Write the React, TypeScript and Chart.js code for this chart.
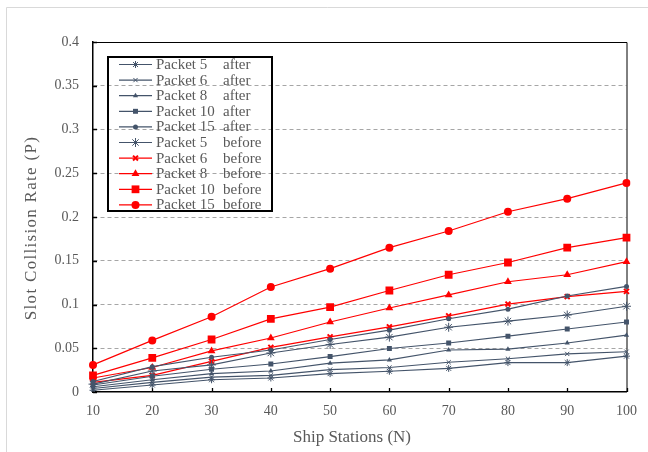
import React, { useEffect, useRef } from 'react';
import { Chart, registerables } from 'chart.js';
import { drawPoint } from 'chart.js/helpers';

Chart.register(...registerables);

// ---- data ----
const stations = ['10', '20', '30', '40', '50', '60', '70', '80', '90', '100'];
const yTickLabels = ['0', '0.05', '0.1', '0.15', '0.2', '0.25', '0.3', '0.35', '0.4'];

const packet5After = [0.002, 0.008, 0.014, 0.016, 0.021, 0.0237, 0.027, 0.0336, 0.0336, 0.041];
const packet6After = [0.004, 0.011, 0.017, 0.019, 0.0256, 0.028, 0.034, 0.038, 0.0435, 0.046];
const packet8After = [0.006, 0.014, 0.021, 0.024, 0.033, 0.0367, 0.048, 0.049, 0.056, 0.065];
const packet10After = [0.008, 0.018, 0.026, 0.032, 0.0405, 0.0497, 0.056, 0.0638, 0.072, 0.08];
const packet15After = [0.012, 0.029, 0.0397, 0.048, 0.06, 0.0707, 0.0837, 0.0947, 0.1097, 0.1207];
const packet5Before = [0.009, 0.024, 0.031, 0.0446, 0.0543, 0.0627, 0.074, 0.081, 0.088, 0.098];
const packet6Before = [0.011, 0.019, 0.035, 0.051, 0.063, 0.0745, 0.087, 0.1005, 0.109, 0.115];
const packet8Before = [0.016, 0.028, 0.047, 0.0617, 0.08, 0.096, 0.111, 0.126, 0.134, 0.149];
const packet10Before = [0.019, 0.039, 0.06, 0.0835, 0.097, 0.116, 0.134, 0.148, 0.165, 0.1765];
const packet15Before = [0.031, 0.059, 0.086, 0.12, 0.141, 0.165, 0.184, 0.206, 0.221, 0.239];

const seriesNames = ['Packet 5', 'Packet 6', 'Packet 8', 'Packet 10', 'Packet 15', 'Packet 5', 'Packet 6', 'Packet 8', 'Packet 10', 'Packet 15'];
const seriesStates = ['after', 'after', 'after', 'after', 'after', 'before', 'before', 'before', 'before', 'before'];
const seriesValues = [packet5After, packet6After, packet8After, packet10After, packet15After, packet5Before, packet6Before, packet8Before, packet10Before, packet15Before];

const xTitle = 'Ship Stations (N)';
const yTitle = 'Slot Collision Rate (P)';

// ---- styles ----
const GRAY = '#44546A';
const RED = '#FF0000';
const TEXT = '#595959';
const FONT = '"Liberation Serif", "Times New Roman", serif';

const seriesStyles = [
  { color: GRAY, pointStyle: 'star', radius: 3.5, bw: 1, fill: false },
  { color: GRAY, pointStyle: 'crossRot', radius: 3, bw: 1, fill: false },
  { color: GRAY, pointStyle: 'triangle', radius: 3, bw: 0, fill: true },
  { color: GRAY, pointStyle: 'rect', radius: 3.5, bw: 0, fill: true },
  { color: GRAY, pointStyle: 'circle', radius: 2.5, bw: 0, fill: true },
  { color: GRAY, pointStyle: 'star', radius: 4.5, bw: 1, fill: false },
  { color: RED, pointStyle: 'crossRot', radius: 3.5, bw: 2, fill: false },
  { color: RED, pointStyle: 'triangle', radius: 4.5, bw: 0, fill: true },
  { color: RED, pointStyle: 'rect', radius: 5.5, bw: 0, fill: true },
  { color: RED, pointStyle: 'circle', radius: 4, bw: 0, fill: true },
];

const framePlugin = {
  id: 'frame',
  beforeDraw(chart: any) {
    const ctx = chart.ctx;
    ctx.save();
    ctx.fillStyle = '#ffffff';
    ctx.fillRect(0, 0, chart.width, chart.height);
    ctx.strokeStyle = '#d9d9d9';
    ctx.lineWidth = 1;
    ctx.beginPath();
    ctx.moveTo(6.5, chart.height);
    ctx.lineTo(6.5, 7.5);
    ctx.lineTo(chart.width, 7.5);
    ctx.stroke();
    ctx.restore();
  },
  beforeDatasetsDraw(chart: any) {
    const ctx = chart.ctx;
    const { left, right, top, bottom } = chart.chartArea;
    ctx.save();
    ctx.strokeStyle = '#000';
    ctx.lineWidth = 1;
    ctx.beginPath();
    ctx.moveTo(left, top + 0.5);
    ctx.lineTo(right + 0.5, top + 0.5);
    ctx.lineTo(right + 0.5, bottom);
    ctx.stroke();
    // inward tick marks
    ctx.lineWidth = 1.3;
    const xs = chart.scales.x;
    ctx.beginPath();
    for (let i = 0; i < stations.length; i++) {
      const px = Math.round(xs.getPixelForValue(i)) + 0.5;
      ctx.moveTo(px, bottom);
      ctx.lineTo(px, bottom - 4);
    }
    const ys = chart.scales.y;
    for (let i = 0; i < yTickLabels.length; i++) {
      const py = Math.round(ys.getPixelForValue(i * 0.05)) + 0.5;
      ctx.moveTo(left, py);
      ctx.lineTo(left + 4, py);
    }
    ctx.stroke();
    ctx.restore();
  },
  afterDraw(chart: any) {
    const ctx = chart.ctx;
    ctx.save();
    // axis titles
    ctx.fillStyle = TEXT;
    ctx.font = `17px ${FONT}`;
    ctx.textAlign = 'center';
    ctx.textBaseline = 'middle';
    ctx.fillText(xTitle, 352, 437.5);
    ctx.save();
    ctx.translate(31.5, 228);
    ctx.rotate(-Math.PI / 2);
    (ctx as any).letterSpacing = '1.3px';
    ctx.fillText(yTitle, 0, 0);
    ctx.restore();

    // legend
    const lx = 107, ly = 56, lw = 166, lh = 156;
    ctx.strokeStyle = '#000';
    ctx.lineWidth = 2;
    ctx.strokeRect(lx + 1, ly + 1, lw - 2, lh - 2);
    chart.data.datasets.forEach((ds: any, i: number) => {
      const y = 64.5 + i * 15.6;
      ctx.strokeStyle = ds.borderColor;
      ctx.lineWidth = ds.borderWidth;
      ctx.beginPath();
      ctx.moveTo(119, y);
      ctx.lineTo(152, y);
      ctx.stroke();
      ctx.fillStyle = ds.pointBackgroundColor;
      ctx.strokeStyle = ds.pointBorderColor;
      ctx.lineWidth = ds.pointBorderWidth;
      drawPoint(ctx, { pointStyle: ds.pointStyle, radius: ds.pointRadius, borderWidth: ds.pointBorderWidth, rotation: 0 } as any, 135.5, y);
      ctx.fillStyle = TEXT;
      ctx.font = `15px ${FONT}`;
      ctx.textAlign = 'left';
      ctx.textBaseline = 'middle';
      ctx.fillText(seriesNames[i], 156, y + 0.5);
      ctx.fillText(seriesStates[i], 223, y + 0.5);
    });
    ctx.restore();
  },
};

export default function App() {
  const ref = useRef<HTMLCanvasElement | null>(null);

  useEffect(() => {
    if (!ref.current) return;
    document.body.style.margin = '0';
    const datasets = seriesValues.map((vals, i) => {
      const s = seriesStyles[i];
      return {
        label: `${seriesNames[i]} ${seriesStates[i]}`,
        data: vals,
        borderColor: s.color,
        borderWidth: 1.2,
        backgroundColor: s.color,
        pointStyle: s.pointStyle,
        pointRadius: s.radius,
        pointBorderWidth: s.bw,
        pointBackgroundColor: s.fill ? s.color : 'transparent',
        pointBorderColor: s.color,
        fill: false,
        tension: 0,
      };
    });
    const chart = new Chart(ref.current, {
      type: 'line',
      data: { labels: stations, datasets: datasets as any },
      options: {
        responsive: false,
        devicePixelRatio: 1,
        animation: false,
        layout: { padding: { left: 0, top: 42, right: 17.5, bottom: 0 } },
        plugins: { legend: { display: false }, tooltip: { enabled: false } },
        scales: {
          x: {
            type: 'category',
            offset: false,
            afterFit: (scale: any) => { scale.height = 60; },
            grid: { display: true, drawOnChartArea: false, drawTicks: false },
            border: { display: true, color: '#000', width: 1.5 },
            ticks: { color: TEXT, font: { family: FONT, size: 14 }, padding: 11, maxRotation: 0, autoSkip: false },
          },
          y: {
            type: 'linear',
            min: 0,
            max: 0.4,
            afterFit: (scale: any) => { scale.width = 93; },
            grid: {
              drawTicks: false,
              color: (c: any) => {
                const v = c.tick ? c.tick.value : 0;
                return v < 0.001 || v > 0.399 ? 'transparent' : '#a6a6a6';
              },
              lineWidth: 1,
            },
            border: { display: true, color: '#000', width: 1.5, dash: [4, 3] },
            ticks: {
              stepSize: 0.05,
              color: TEXT,
              font: { family: FONT, size: 14 },
              padding: 14,
              callback: (v: any) => yTickLabels[Math.round(Number(v) / 0.05)] ?? '',
            },
          },
        },
      },
      plugins: [framePlugin],
    });
    return () => chart.destroy();
  }, []);

  return (
    <div style={{ position: 'fixed', left: 0, top: 0, width: 648, height: 452, background: '#fff' }}>
      <canvas ref={ref} width={648} height={452} style={{ display: 'block', width: 648, height: 452 }} />
    </div>
  );
}
